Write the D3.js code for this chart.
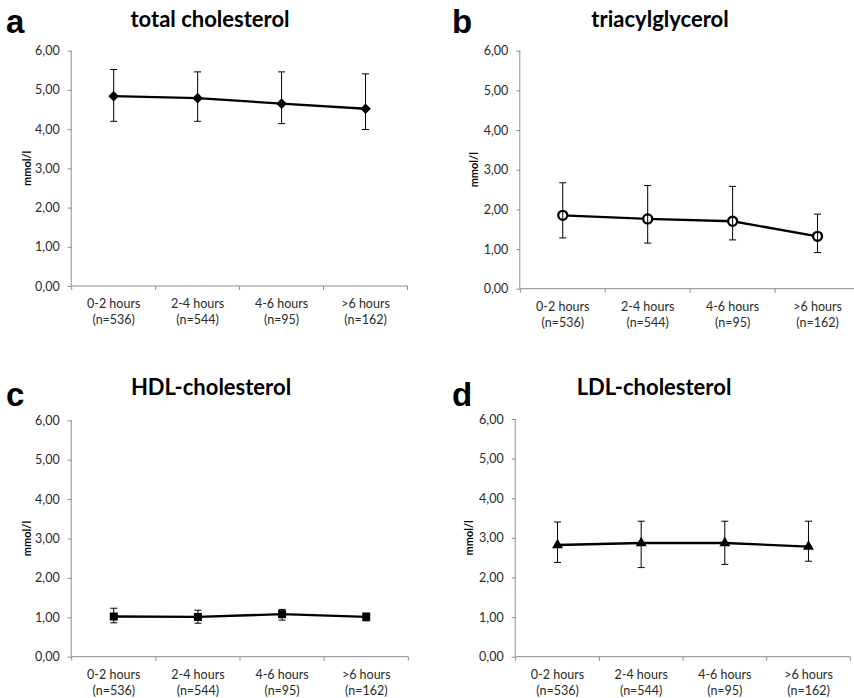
<!DOCTYPE html>
<html>
<head>
<meta charset="utf-8">
<script src="https://cdn.jsdelivr.net/npm/d3@7"></script>
<style>
  html, body { margin: 0; padding: 0; background: #fff; }
  svg { display: block; }
</style>
</head>
<body>
<svg id="chart" width="854" height="698"></svg>
<script>
// ---- data ----
const categories = ["0-2 hours", "2-4 hours", "4-6 hours", ">6 hours"];
const nLabels = ["(n=536)", "(n=544)", "(n=95)", "(n=162)"];
const yTicks = [0, 1, 2, 3, 4, 5, 6];

const totalMean  = [4.84, 4.79, 4.65, 4.52];
const totalUpper = [5.52, 5.46, 5.46, 5.41];
const totalLower = [4.20, 4.20, 4.14, 3.99];

const tagMean  = [1.85, 1.76, 1.70, 1.32];
const tagUpper = [2.67, 2.60, 2.58, 1.88];
const tagLower = [1.28, 1.15, 1.23, 0.91];

const hdlMean  = [1.02, 1.01, 1.08, 1.01];
const hdlUpper = [1.23, 1.18, 1.20, 1.11];
const hdlLower = [0.86, 0.85, 0.93, 0.91];

const ldlMean  = [2.82, 2.87, 2.87, 2.78];
const ldlUpper = [3.40, 3.42, 3.42, 3.42];
const ldlLower = [2.38, 2.25, 2.33, 2.41];

// ---- layout ----
const panels = [
  { letter: "a", title: "total cholesterol", mean: totalMean, upper: totalUpper, lower: totalLower, marker: "diamond",
    x0: 71.7, x1: 407.5, yTop: 50.7, yBot: 286, lx: 6, ly: 33, tx: 210, ty: 27, ylx: 27 },
  { letter: "b", title: "triacylglycerol", mean: tagMean, upper: tagUpper, lower: tagLower, marker: "circle",
    x0: 520.3, x1: 860, yTop: 50.7, yBot: 288.7, lx: 452, ly: 33, tx: 660, ty: 27, ylx: 474 },
  { letter: "c", title: "HDL-cholesterol", mean: hdlMean, upper: hdlUpper, lower: hdlLower, marker: "square",
    x0: 71.7, x1: 408.3, yTop: 420.3, yBot: 656.7, lx: 6, ly: 406, tx: 211, ty: 395, ylx: 27 },
  { letter: "d", title: "LDL-cholesterol", mean: ldlMean, upper: ldlUpper, lower: ldlLower, marker: "triangle",
    x0: 515.7, x1: 850.3, yTop: 419, yBot: 656.7, lx: 452, ly: 406, tx: 654, ty: 395, ylx: 469 }
];

const svg = d3.select("#chart");
const fmt = v => d3.format(".2f")(v).replace(".", ",");
const axisColor = "#8c8c8c";
const textColor = "#2a2a2a";
const font = "Lato, 'Open Sans', sans-serif";

panels.forEach(p => {
  const g = svg.append("g");
  const x = d3.scaleBand().domain(categories).range([p.x0, p.x1]).paddingInner(0).paddingOuter(0);
  const y = d3.scaleLinear().domain([0, 6]).range([p.yBot, p.yTop]);

  // panel letter
  g.append("text").attr("x", p.lx).attr("y", p.ly)
    .attr("font-family", "'Liberation Sans', Arial, sans-serif").attr("font-weight", "bold")
    .attr("font-size", 33).attr("fill", "#000").text(p.letter);

  // title
  g.append("text").attr("x", p.tx).attr("y", p.ty).attr("text-anchor", "middle")
    .attr("font-family", font).attr("font-weight", "bold").attr("font-size", 22)
    .attr("fill", "#000").text(p.title);

  // y axis
  const yAxis = d3.axisLeft(y).tickValues(yTicks).tickSize(4).tickPadding(8).tickFormat(fmt);
  const ya = g.append("g").attr("transform", `translate(${p.x0},0)`).call(yAxis);
  ya.select(".domain").attr("stroke", axisColor).attr("d", `M-0.5,${p.yTop}V${p.yBot}`);
  ya.selectAll(".tick line").attr("stroke", axisColor);
  ya.selectAll(".tick text").attr("font-family", font).attr("font-size", 12.5).attr("fill", textColor);

  // y label
  g.append("text")
    .attr("transform", `translate(${p.ylx},${(p.yTop + p.yBot) / 2}) rotate(-90)`)
    .attr("text-anchor", "middle").attr("dy", "0.35em")
    .attr("font-family", font).attr("font-weight", "bold").attr("font-size", 11)
    .attr("fill", "#000").text("mmol/l");

  // x axis line + boundary ticks
  g.append("line").attr("x1", p.x0).attr("x2", p.x1).attr("y1", y(0)).attr("y2", y(0))
    .attr("stroke", axisColor);
  const bounds = d3.range(categories.length + 1).map(i => x.range()[0] + i * x.step());
  g.selectAll(".xtick").data(bounds).enter().append("line")
    .attr("x1", d => d).attr("x2", d => d).attr("y1", y(0)).attr("y2", y(0) + 4)
    .attr("stroke", axisColor);
  // x labels
  categories.forEach((c, i) => {
    const cx = x(c) + x.bandwidth() / 2;
    const t = g.append("text").attr("text-anchor", "middle")
      .attr("font-family", font).attr("font-size", 12.5).attr("fill", textColor);
    t.append("tspan").attr("x", cx).attr("y", y(0) + 22).text(c);
    t.append("tspan").attr("x", cx).attr("y", y(0) + 38).text(nLabels[i]);
  });

  const pts = categories.map((c, i) => ({ c, m: p.mean[i], u: p.upper[i], l: p.lower[i] }));
  const cx = d => x(d.c) + x.bandwidth() / 2;

  // line
  g.append("path").datum(pts)
    .attr("d", d3.line().x(cx).y(d => y(d.m)))
    .attr("fill", "none").attr("stroke", "#000").attr("stroke-width", 2.3);

  // markers
  let sym, size, rot = 0, fill = "#000", stroke = "none", sw = 0;
  if (p.marker === "diamond") { sym = d3.symbolSquare; size = 56; rot = 45; }
  if (p.marker === "circle") { sym = d3.symbolCircle; size = 64; fill = "#fff"; stroke = "#000"; sw = 2.3; }
  if (p.marker === "square") { sym = d3.symbolSquare; size = 64; }
  if (p.marker === "triangle") { sym = d3.symbolTriangle; size = 52; }
  g.selectAll(".mk").data(pts).enter().append("path")
    .attr("d", d3.symbol().type(sym).size(size))
    .attr("transform", d => `translate(${cx(d)},${y(d.m)}) rotate(${rot})`)
    .attr("fill", fill).attr("stroke", stroke).attr("stroke-width", sw);

  // error bars
  const eb = g.selectAll(".eb").data(pts).enter().append("g").attr("stroke", "#000").attr("stroke-width", 1);
  eb.append("line").attr("x1", cx).attr("x2", cx).attr("y1", d => y(d.u)).attr("y2", d => y(d.l));
  eb.append("line").attr("x1", d => cx(d) - 3.5).attr("x2", d => cx(d) + 3.5).attr("y1", d => y(d.u)).attr("y2", d => y(d.u));
  eb.append("line").attr("x1", d => cx(d) - 3.5).attr("x2", d => cx(d) + 3.5).attr("y1", d => y(d.l)).attr("y2", d => y(d.l));
});
</script>
</body>
</html>
